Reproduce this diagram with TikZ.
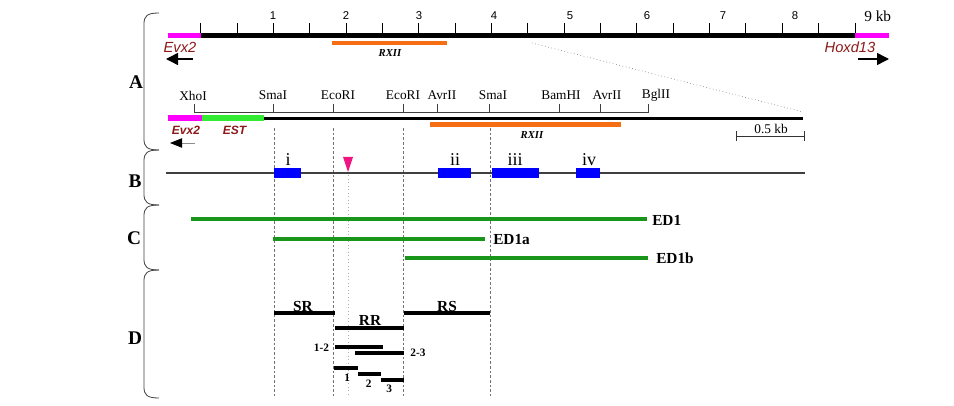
\documentclass[tikz,border=0pt]{standalone}
\usepackage{fontspec}
\setmainfont{Liberation Serif}
\setsansfont{Liberation Sans}
\usetikzlibrary{arrows.meta}

\definecolor{evxred}{RGB}{140,25,25}
\definecolor{genemag}{RGB}{255,0,255}
\definecolor{estgreen}{RGB}{50,235,50}
\definecolor{edgreen}{RGB}{25,150,25}
\definecolor{rxorange}{RGB}{245,110,20}
\definecolor{exonblue}{RGB}{0,0,255}
\definecolor{sitepink}{RGB}{240,20,130}

\begin{document}
\begin{tikzpicture}[x=0.75pt,y=-0.75pt,
    numlab/.style={inner sep=0pt, font=\sffamily\fontsize{8.5}{10}\selectfont},
    sitelab/.style={inner sep=0pt, font=\fontsize{10}{12}\selectfont},
    genelab/.style={inner sep=0pt, text=evxred, font=\sffamily\itshape\fontsize{11}{13}\selectfont},
    genebold/.style={inner sep=0pt, text=evxred, font=\sffamily\bfseries\itshape\fontsize{9}{11}\selectfont},
    rxlab/.style={inner sep=0pt, font=\bfseries\itshape\fontsize{8}{9}\selectfont},
    boldlab/.style={inner sep=0pt, font=\bfseries\fontsize{11.5}{13}\selectfont},
    smalllab/.style={inner sep=0pt, font=\bfseries\fontsize{8.5}{10}\selectfont},
    seclab/.style={inner sep=0pt, font=\bfseries\fontsize{14.5}{16}\selectfont},
    romanlab/.style={inner sep=0pt, font=\fontsize{13.5}{15}\selectfont},
    secbracket/.style={line width=0.6pt, black!75},
    guide/.style={black!55, line width=0.5pt, dash pattern=on 2pt off 1.5pt},
    fragment/.style={line width=2.5pt},
    edline/.style={edgreen, line width=2.5pt},
    exon/.style={fill=exonblue, draw=none},
    bigarrow/.style={-{Triangle[length=9pt,width=9pt]}, line width=1.1pt},
  ]
    \useasboundingbox (0,0) rectangle (954,406);

    % 绘制分区括号
    \foreach \ya/\yb in {13/150,150/205,205/270,270/398}
        \draw[secbracket] (159,\ya) .. controls (147,\ya) and (144,{\ya+3}) .. (144,{\ya+11})
            -- (144,{\yb-11}) .. controls (144,{\yb-3}) and (147,\yb) .. (159,\yb);
    \node[seclab] (secA) at (136,82) {A};
    \node[seclab] (secB) at (135,181) {B};
    \node[seclab] (secC) at (134,238) {C};
    \node[seclab] (secD) at (135,338) {D};

    % 绘制 9 kb 刻度尺
    \foreach \i in {0,...,18}
        \draw[line width=0.75pt] ({200.7+36.35*\i},23) -- ({200.7+36.35*\i},35);
    \draw[line width=3.75pt] (201,35.5) -- (855,35.5);
    \draw[genemag, line width=3.75pt] (168,35.5) -- (201,35.5);
    \draw[genemag, line width=3.75pt] (855,35.5) -- (889,35.5);
    \foreach \n/\x in {1/273,2/346,3/419,4/494,5/570,6/647,7/723,8/795}
        \node[numlab] (kb\n) at (\x,16) {\n};
    \node[inner sep=0pt, anchor=west, font=\fontsize{11.5}{13}\selectfont] (kb9) at (864,16) {9 kb};

    % 标注两端基因
    \node[genelab] (evxtop) at (180,47) {Evx2};
    \node[genelab] (hoxd) at (850,47) {Hoxd13};
    \draw[bigarrow] (193,59) -- (166,59);
    \draw[bigarrow] (858,59) -- (889,59);

    % RXII 区域
    \draw[rxorange, line width=3.5pt] (332,43) -- (447,43);
    \node[rxlab] (rxtop) at (390,53.5) {RXII};

    % 放大示意线
    \draw[black!50, line width=0.5pt, dotted] (532,43) -- (803,112);

    % 绘制限制性酶切位点
    \draw[black!75, line width=0.75pt] (194,112.5) -- (649,112.5);
    \foreach \x in {194,273,333,403,437,489,559,600,648}
        \draw[black!75, line width=0.75pt] (\x,104) -- (\x,112.5);
    \foreach \s/\lx/\t in {xho/193/XhoI,smaA/273/SmaI,ecoA/338/EcoRI,ecoB/403/EcoRI,avrA/442/AvrII,smaB/493/SmaI,bam/561/BamHI,avrB/607/AvrII,bgl/656/BglII}
        \node[sitelab] (\s) at (\lx,95.5) {\t};

    % 放大区域
    \draw[line width=2.4pt] (264,118.5) -- (803,118.5);
    \draw[genemag, line width=4.5pt] (168,118.5) -- (202,118.5);
    \draw[estgreen, line width=4.5pt] (202,118.5) -- (264,118.5);
    \node[genebold] (evxlow) at (186,130.5) {Evx2};
    \node[genebold] (est) at (234.5,130.5) {EST};
    \draw[-{Triangle[length=9pt,width=7pt,color=black]}, black!45, line width=0.6pt] (195,143) -- (170,143);
    \draw[rxorange, line width=3.2pt] (430,124.5) -- (621,124.5);
    \node[rxlab] (rxlow) at (532,135) {RXII};

    % 比例尺
    \draw[black!80, line width=0.75pt] (736,131) -- (736,141) (736,137) -- (804,137) (804,131) -- (804,141);
    \node[sitelab] (half) at (771,129) {0.5 kb};

    % 竖直参考虚线
    \foreach \x in {274,333,403,490}
        \draw[guide] (\x,128) -- (\x,396);
    \draw[sitepink!30!black!35, line width=0.6pt, dotted] (348,172) -- (348,396);

    % B: 外显子
    \draw[black!75, line width=0.8pt] (166,173) -- (805,173);
    \fill[exon] (274,168) rectangle (301,178);
    \fill[exon] (438,168) rectangle (471,178);
    \fill[exon] (492,168) rectangle (539,178);
    \fill[exon] (576,168) rectangle (600,178);
    \node[romanlab] (exi) at (288,160) {i};
    \node[romanlab] (exii) at (455,160) {ii};
    \node[romanlab] (exiii) at (515,160) {iii};
    \node[romanlab] (exiv) at (589,160) {iv};
    \fill[sitepink] (343,157) -- (353,157) -- (348,172) -- cycle;

    % C: ED 片段
    \draw[edline] (191,219) -- (647,219);
    \draw[edline] (273,239) -- (485,239);
    \draw[edline] (405,258) -- (648,258);
    \node[boldlab, anchor=west] (ed1) at (652,220) {ED1};
    \node[boldlab, anchor=west] (ed1a) at (493,239.5) {ED1a};
    \node[boldlab, anchor=west] (ed1b) at (656,258.5) {ED1b};

    % D: 亚片段
    \draw[fragment] (274,313) -- (335,313);
    \draw[fragment] (404,313) -- (490,313);
    \draw[fragment] (335,328) -- (404,328);
    \draw[fragment] (335,347) -- (383,347);
    \draw[fragment] (355,353) -- (404,353);
    \draw[fragment] (334,368) -- (358,368);
    \draw[fragment] (358,374) -- (381,374);
    \draw[fragment] (381,380) -- (404,380);
    \node[boldlab] (sr) at (303,306.5) {SR};
    \node[boldlab] (rs) at (447,306.5) {RS};
    \node[boldlab] (rr) at (370,320.5) {RR};
    \node[smalllab] (f12) at (321.5,347.3) {1-2};
    \node[smalllab] (f23) at (418,353) {2-3};
    \node[smalllab] (f1) at (347.3,377.3) {1};
    \node[smalllab] (f2) at (368.7,383.3) {2};
    \node[smalllab] (f3) at (389.3,389.3) {3};
\end{tikzpicture}
\end{document}
